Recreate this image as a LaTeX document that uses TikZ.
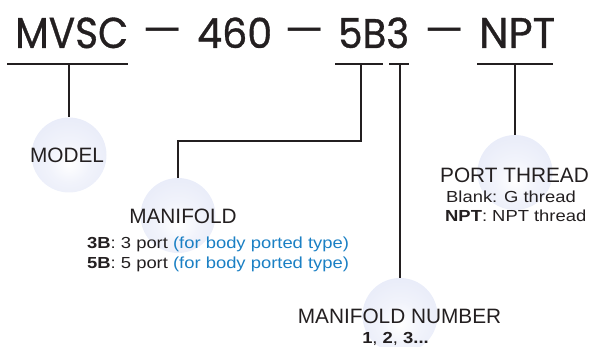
\documentclass[tikz,border=0pt]{standalone}
\usepackage{fontspec}
\usepackage{graphicx}
\setmainfont{Liberation Sans}
\newfontfamily\widefont[FakeStretch=1.15]{Liberation Sans}
\newfontfamily\topfont[FakeBold=0.8]{Poppins}
\newfontfamily\dashfont{Poppins}
\definecolor{ink}{HTML}{231F20}
\definecolor{cblue}{HTML}{1B80C4}
\definecolor{ballc}{HTML}{DDE2F5}
\definecolor{ballm}{HTML}{F1F3FB}
\pgfdeclareradialshading{ballshade}{\pgfpoint{0bp}{-6bp}}{color(0bp)=(white); color(14bp)=(ballm); color(50bp)=(ballc); color(60bp)=(ballc)}
\tikzset{
  ball/.style={circle, minimum size=75pt, inner sep=0pt, shading=ballshade},
  conn/.style={draw=ink, line width=1.2pt},
  big/.style={font=\fontsize{20.8}{24}\selectfont, text=ink, inner sep=0pt, anchor=base},
  small/.style={font=\widefont\fontsize{16}{19}\selectfont, text=ink, inner sep=0pt, anchor=base west},
  code/.style={font=\topfont\fontsize{43}{48}\selectfont, text=ink, inner sep=0pt, anchor=base west},
  dashmark/.style={font=\dashfont\fontsize{43}{48}\selectfont, text=ink, inner sep=0pt, anchor=base},
}
\begin{document}
\begin{tikzpicture}[x=1pt, y=-1pt]
\useasboundingbox (0,0) rectangle (592,347);
% balls
\node[ball] (bModel) at (69,155) {};
\node[ball] (bMan) at (178,215.5) {};
\node[ball] (bNum) at (400,315.5) {};
\node[ball] (bPort) at (515,172.5) {};
% code line
\node[code] (cMVSC) at (15,48) {\resizebox{113pt}{30.5pt}{MVSC}};
\node[dashmark] (d1) at (163,46) {\scalebox{1.45}[1]{–}};
\node[code] (c460) at (197,48) {\resizebox{75pt}{30.5pt}{460}};
\node[dashmark] (d2) at (305,46) {\scalebox{1.45}[1]{–}};
\node[code] (c5B3) at (338,48) {\resizebox{71pt}{30.5pt}{5B3}};
\node[dashmark] (d3) at (444.5,46) {\scalebox{1.45}[1]{–}};
\node[code] (cNPT) at (479,48) {\resizebox{76pt}{30pt}{NPT}};
% underlines and ticks
\coordinate (u1a) at (7,64);   \coordinate (u1b) at (128,64);  \coordinate (t1) at (69,64);
\coordinate (u2a) at (335,64); \coordinate (u2b) at (383,64);  \coordinate (t2) at (361,64);
\coordinate (u3a) at (389,64); \coordinate (u3b) at (409,64);  \coordinate (t3) at (400,64);
\coordinate (u4a) at (477,64); \coordinate (u4b) at (553,64);  \coordinate (t4) at (515,64);
\coordinate (k2) at (361,141);
\draw[conn] (u1a) -- (u1b);
\draw[conn] (u2a) -- (u2b);
\draw[conn] (u3a) -- (u3b);
\draw[conn] (u4a) -- (u4b);
\draw[conn] (t1) -- (bModel.north);
\draw[conn] (t2) -- (k2) -| (bMan.north);
\draw[conn] (t3) -- (bNum.north);
\draw[conn] (t4) -- (bPort.north);
% labels
\node[big] (lModel) at (67,163) {MODEL};
\node[big] (lMan) at (183,224) {MANIFOLD};
\node[small] (lMan1) at (87,249) {\textbf{3B}: 3 port \textcolor{cblue}{(for body ported type)}};
\node[small] (lMan2) at (87,269) {\textbf{5B}: 5 port \textcolor{cblue}{(for body ported type)}};
\node[big] (lNum) at (399.5,324) {MANIFOLD NUMBER};
\node[small, anchor=base] (lNum1) at (395.5,344) {\textbf{1}, \textbf{2}, \textbf{3...}};
\node[big] (lPort) at (514.5,183) {PORT THREAD};
\node[small] (lPort1) at (446,203) {Blank: G thread};
\node[small] (lPort2) at (445,222) {\textbf{NPT}: NPT thread};
\end{tikzpicture}
\end{document}
